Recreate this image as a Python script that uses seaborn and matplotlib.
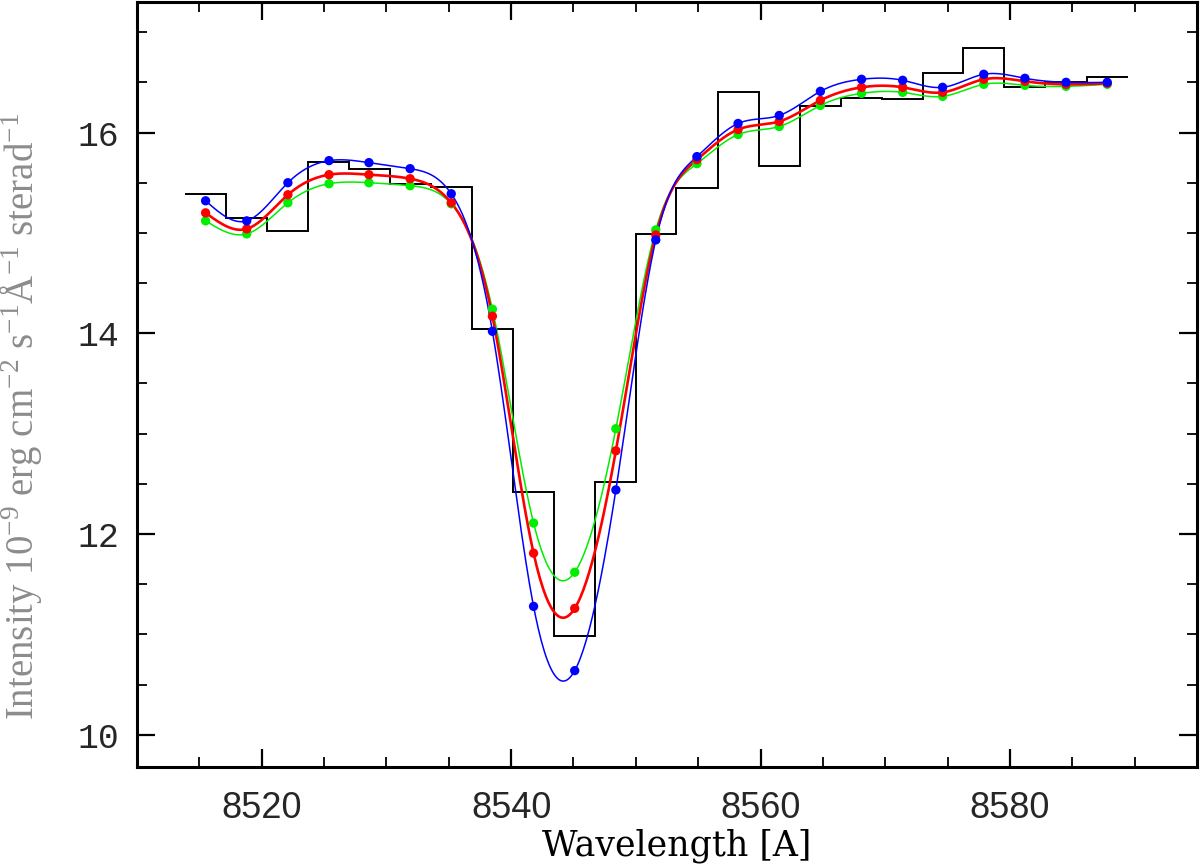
import numpy as np
import pandas as pd
import matplotlib
matplotlib.use("Agg")
import matplotlib.pyplot as plt
import seaborn as sns

# longitudes de onda (centros de cada bin) en Angstrom
wavelength = [8515.5, 8518.8, 8522.1, 8525.4, 8528.6, 8531.9, 8535.2, 8538.5,
              8541.8, 8545.1, 8548.4, 8551.6, 8554.9, 8558.2, 8561.5, 8564.8,
              8568.1, 8571.4, 8574.6, 8577.9, 8581.2, 8584.5, 8587.8]

# espectro observado (histograma negro)
observed = [15.39, 15.15, 15.02, 15.71, 15.64, 15.49, 15.46, 14.04,
            12.42, 10.98, 12.52, 14.99, 15.45, 16.40, 15.67, 16.26,
            16.34, 16.33, 16.59, 16.84, 16.45, 16.50, 16.55]

# modelos sinteticos
model_blue = [15.32, 15.12, 15.50, 15.72, 15.70, 15.64, 15.39, 14.02,
              11.28, 10.64, 12.44, 14.93, 15.76, 16.09, 16.17, 16.41,
              16.53, 16.52, 16.45, 16.58, 16.54, 16.50, 16.50]
model_red = [15.20, 15.04, 15.38, 15.58, 15.58, 15.54, 15.30, 14.17,
             11.81, 11.26, 12.83, 14.98, 15.73, 16.03, 16.11, 16.32,
             16.45, 16.45, 16.40, 16.53, 16.51, 16.48, 16.49]
model_green = [15.12, 14.99, 15.30, 15.49, 15.50, 15.47, 15.29, 14.24,
               12.11, 11.62, 13.05, 15.03, 15.69, 15.98, 16.06, 16.27,
               16.39, 16.40, 16.36, 16.48, 16.47, 16.46, 16.48]


def spline(x, y, n=600):
    # spline cubico natural para dibujar la curva suave entre los puntos
    x = np.asarray(x, float)
    y = np.asarray(y, float)
    h = np.diff(x)
    m = len(x)
    A = np.zeros((m, m))
    r = np.zeros(m)
    A[0, 0] = A[-1, -1] = 1
    for i in range(1, m - 1):
        A[i, i - 1] = h[i - 1]
        A[i, i] = 2 * (h[i - 1] + h[i])
        A[i, i + 1] = h[i]
        r[i] = 3 * ((y[i + 1] - y[i]) / h[i] - (y[i] - y[i - 1]) / h[i - 1])
    c = np.linalg.solve(A, r)
    b = np.diff(y) / h - h * (2 * c[:-1] + c[1:]) / 3
    d = np.diff(c) / (3 * h)
    xs = np.linspace(x[0], x[-1], n)
    idx = np.clip(np.searchsorted(x, xs) - 1, 0, m - 2)
    dx = xs - x[idx]
    return xs, y[idx] + b[idx] * dx + c[idx] * dx ** 2 + d[idx] * dx ** 3


sns.set_style("ticks")
plt.rcParams["mathtext.fontset"] = "custom"
plt.rcParams["mathtext.rm"] = "Liberation Serif"
plt.rcParams["mathtext.it"] = "Liberation Serif:italic"

fig = plt.figure(figsize=(12, 8.64), dpi=100)
ax = fig.add_axes([137 / 1200, 1 - 767 / 864, 1060 / 1200, 765 / 864])

# histograma del espectro observado
w = np.asarray(wavelength)
mid = (w[1:] + w[:-1]) / 2
edges = np.concatenate([[w[0] - (mid[0] - w[0])], mid, [w[-1] + (w[-1] - mid[-1])]])
ax.stairs(observed, edges, color="black", linewidth=1.4, baseline=None, zorder=1)

# modelos: curva suave + puntos
modelos = [("#00ee00", model_green, 1.1), ("red", model_red, 1.9), ("blue", model_blue, 1.1)]
for color, vals, lw in modelos:
    xs, ys = spline(wavelength, vals)
    df = pd.DataFrame({"x": xs, "y": ys})
    sns.lineplot(data=df, x="x", y="y", color=color, linewidth=lw, ax=ax, zorder=2)
    sns.scatterplot(x=wavelength, y=vals, color=color, s=45, edgecolor="none", ax=ax, zorder=3)

ax.set_xlim(8510, 8595)
ax.set_ylim(9.68, 17.3)
ax.set_xticks([8520, 8540, 8560, 8580])
ax.set_xticks(np.arange(8515, 8595, 5), minor=True)
ax.set_yticks([10, 12, 14, 16])
ax.set_yticks(np.arange(10, 17.5, 0.5), minor=True)

ax.tick_params(which="both", direction="in", top=True, right=True, color="black")
ax.tick_params(which="major", length=13, width=1.6)
ax.tick_params(which="minor", length=7, width=1.3)
ax.tick_params(axis="x", which="major", pad=17)
ax.tick_params(axis="y", which="major", pad=13)
for lab in ax.get_xticklabels():
    lab.set_fontfamily("Liberation Sans")
    lab.set_fontsize(26)
for lab in ax.get_yticklabels():
    lab.set_fontfamily("Liberation Mono")
    lab.set_fontsize(25)

for s in ax.spines.values():
    s.set_linewidth(2.2)
    s.set_color("black")

ax.set_xlabel("Wavelength [A]", fontfamily="DejaVu Serif", fontsize=25, color="black")
ax.xaxis.set_label_coords(0.509, -0.08)
ax.set_ylabel(r"Intensity 10$^{-9}$ erg cm$^{-2}$ s$^{-1}$Å$^{-1}$ sterad$^{-1}$",
              fontfamily="Liberation Serif", fontsize=28, color="#8c8c8c")
ax.yaxis.set_label_coords(-0.088, 0.458)

fig.savefig("out.png", dpi=100)
